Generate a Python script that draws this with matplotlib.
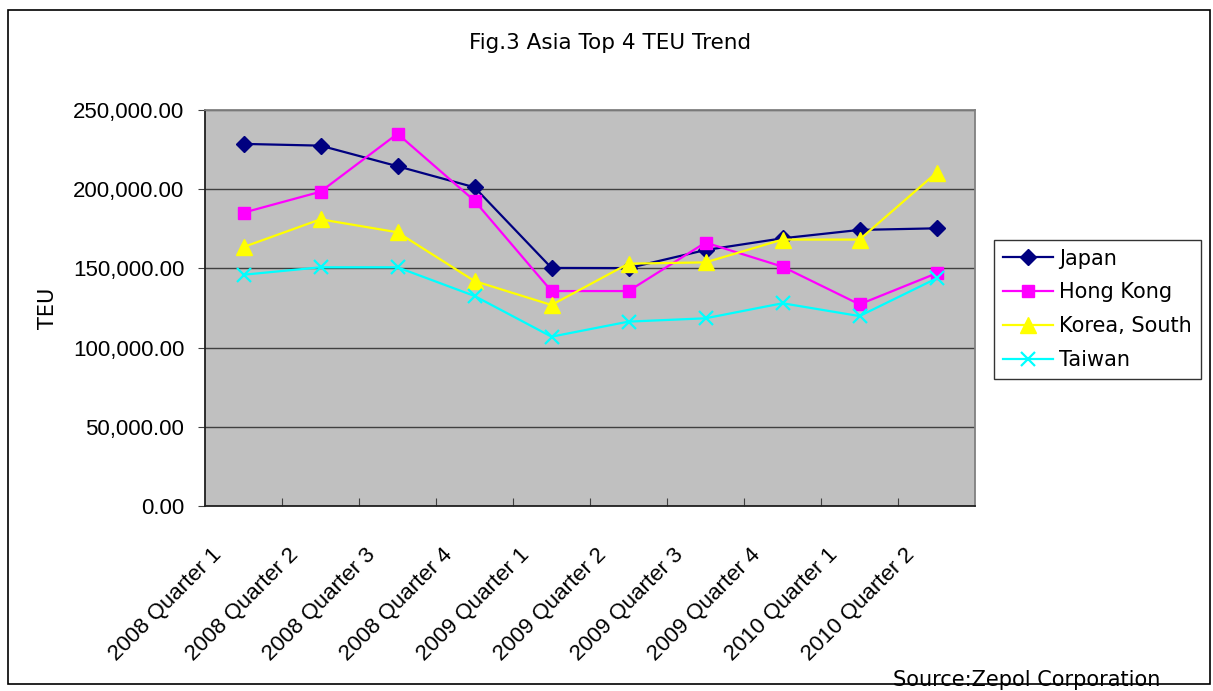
import matplotlib
matplotlib.use("Agg")
import matplotlib.pyplot as plt
from matplotlib.patches import Rectangle
from matplotlib.ticker import FuncFormatter, MultipleLocator
import matplotlib.transforms as mtransforms

# data
quarters = ["2008 Quarter 1", "2008 Quarter 2", "2008 Quarter 3", "2008 Quarter 4",
            "2009 Quarter 1", "2009 Quarter 2", "2009 Quarter 3", "2009 Quarter 4",
            "2010 Quarter 1", "2010 Quarter 2"]
japan = [228600, 227500, 214500, 201200, 150300, 150200, 161600, 169000, 174300, 175300]
hong_kong = [185200, 198400, 235000, 192700, 135700, 135700, 166300, 151100, 127300, 146900]
korea_south = [163500, 181000, 172800, 142000, 126900, 153000, 153800, 168200, 168200, 210400]
taiwan = [146000, 150700, 150700, 132600, 106900, 116400, 118500, 128000, 119900, 143700]

W, H = 1213, 691
fig = plt.figure(figsize=(W / 100, H / 100), dpi=100)

# outer chart border
fig.patches.append(Rectangle((8 / W, 1 - 684 / H), 1202 / W, 674 / H,
                             transform=fig.transFigure, fill=False,
                             edgecolor="black", linewidth=1.2))

ax = fig.add_axes([205 / W, 1 - 506 / H, 770 / W, 396 / H])
ax.set_facecolor("#C0C0C0")

x = list(range(len(quarters)))
ax.plot(x, japan, color="#000080", marker="D", markersize=8, linewidth=1.6, label="Japan")
ax.plot(x, hong_kong, color="#FF00FF", marker="s", markersize=9, linewidth=1.6, label="Hong Kong")
ax.plot(x, korea_south, color="#FFFF00", marker="^", markersize=11, linewidth=1.6, label="Korea, South")
ax.plot(x, taiwan, color="#00FFFF", marker="x", markersize=10, markeredgewidth=1.6,
        linewidth=1.6, label="Taiwan")

ax.set_xlim(-0.5, len(quarters) - 0.5)
ax.set_ylim(0, 250000)
ax.yaxis.set_major_locator(MultipleLocator(50000))
ax.yaxis.set_major_formatter(FuncFormatter(lambda v, p: f"{v:,.2f}"))
ax.yaxis.grid(True, color="#404040", linewidth=1.0)
ax.set_axisbelow(True)

# category ticks sit between categories, labels at centers
ax.set_xticks([i + 0.5 for i in x[:-1]], minor=False)
ax.set_xticklabels([])
ax.tick_params(axis="x", direction="in", length=6, color="#404040")
ax.set_xticks(x, minor=True)
ax.set_xticklabels(quarters, minor=True, rotation=45, ha="right", va="center",
                   rotation_mode="anchor", fontsize=16, family="Liberation Sans")
ax.tick_params(axis="x", which="minor", length=0, pad=33)
offset = mtransforms.ScaledTranslation(-25 / 100, 0, fig.dpi_scale_trans)
for lab in ax.get_xticklabels(minor=True):
    lab.set_transform(lab.get_transform() + offset)

ax.tick_params(axis="y", direction="out", length=5, labelsize=16, pad=10, color="#404040")
for lab in ax.get_yticklabels():
    lab.set_family("Liberation Sans")

for side in ["left", "bottom"]:
    ax.spines[side].set_color("#202020")
    ax.spines[side].set_linewidth(1.3)
for side in ["top", "right"]:
    ax.spines[side].set_color("#808080")
    ax.spines[side].set_linewidth(1.3)

ax.set_ylabel("TEU", fontsize=15, family="DejaVu Sans", labelpad=11)

fig.text(610 / W, 1 - 43 / H, "Fig.3 Asia Top 4 TEU Trend", ha="center", va="center",
         fontsize=15.5, family="DejaVu Sans")
fig.text(1027 / W, 1 - 680 / H, "Source:Zepol Corporation", ha="center", va="center",
         fontsize=15, family="DejaVu Sans")

leg = ax.legend(loc="upper left", bbox_to_anchor=(994 / W, 1 - 240 / H),
                bbox_transform=fig.transFigure, frameon=True,
                fancybox=False, edgecolor="black", borderpad=0.42, labelspacing=0.66,
                handlelength=2.4, handletextpad=0.3, borderaxespad=0,
                prop={"family": "DejaVu Sans", "size": 15})
leg.get_frame().set_linewidth(1.0)

fig.savefig("out.png", dpi=100)
